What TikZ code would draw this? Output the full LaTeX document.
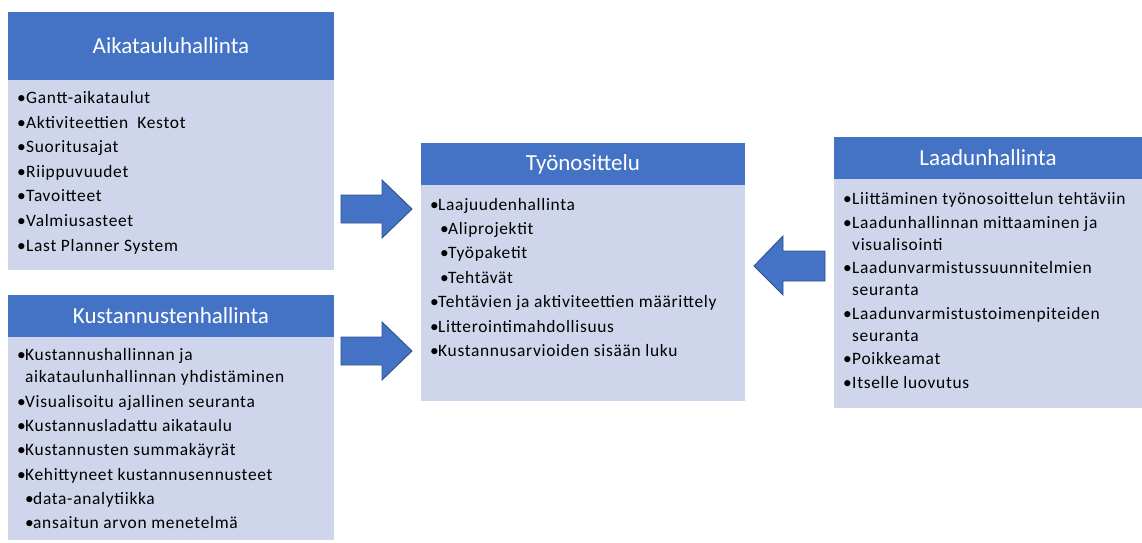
\documentclass[tikz,border=0pt]{standalone}
\usepackage{fontspec}
\setmainfont{Carlito}
\newfontfamily\bodyfont[LetterSpace=4]{Carlito}
\definecolor{hdr}{HTML}{4472C4}
\definecolor{bdy}{HTML}{CFD5EA}
\definecolor{arrline}{HTML}{2F528F}
\newcommand{\bul}[1]{\makebox[#1][l]{\textbullet}}
\begin{document}
\begin{tikzpicture}[x=1pt,y=-1pt,
  hdrbox/.style={fill=hdr, draw=none, text=white, font=\fontsize{23}{26}\selectfont, inner sep=0},
  bdybox/.style={fill=bdy, draw=none, inner sep=0},
  itm/.style={anchor=base west, inner sep=0, font=\bodyfont\fontsize{17.4}{20}\selectfont, text=black},
  blockarrow/.style={fill=hdr, draw=arrline, line width=0.9pt, line join=miter}]
\useasboundingbox (0,0) rectangle (1142,542);
% Box 1
\node[hdrbox, minimum width=326, minimum height=68] (h1) at (171,46) {Aikatauluhallinta};
\node[bdybox, minimum width=326, minimum height=190] (b1) at (171,175) {};
\foreach \i/\y/\t in {1/103/Gantt-aikataulut, 2/128/Aktiviteettien\ \ Kestot, 3/152/Suoritusajat, 4/177/Riippuvuudet, 5/201/Tavoitteet, 6/226/Valmiusasteet, 7/251/Last Planner System}
  \node[itm] (a\i) at (17,\y) {\bul{9pt}\t};
% Box 2
\node[hdrbox, minimum width=326, minimum height=42] (h2) at (171,316) {Kustannustenhallinta};
\node[bdybox, minimum width=326, minimum height=203] (b2) at (171,438.5) {};
\foreach \i/\y/\t in {1/360/Kustannushallinnan ja, 3/407/Visualisoitu ajallinen seuranta, 4/431/Kustannusladattu aikataulu, 5/455/Kustannusten summakäyrät, 6/480/Kehittyneet kustannusennusteet}
  \node[itm] (k\i) at (17,\y) {\bul{8pt}\t};
\node[itm] (k2) at (25,382) {aikataulunhallinnan yhdistäminen};
\foreach \i/\y/\t in {7/504/data-analytiikka, 8/528/ansaitun arvon menetelmä}
  \node[itm] (k\i) at (25,\y) {\bul{8pt}\t};
% Box 3
\node[hdrbox, minimum width=324, minimum height=42] (h3) at (583,164) {Työnosittelu};
\node[bdybox, minimum width=324, minimum height=216] (b3) at (583,293) {};
\foreach \i/\y/\t in {1/210/Laajuudenhallinta, 5/307/Tehtävien ja aktiviteettien määrittely, 6/332/Litterointimahdollisuus, 7/356/Kustannusarvioiden sisään luku}
  \node[itm] (t\i) at (430,\y) {\bul{8pt}\t};
\foreach \i/\y/\t in {2/234/Aliprojektit, 3/258/Työpaketit, 4/283/Tehtävät}
  \node[itm] (t\i) at (440,\y) {\bul{8pt}\t};
% Box 4
\node[hdrbox, minimum width=308, minimum height=42] (h4) at (988,158) {Laadunhallinta};
\node[bdybox, minimum width=308, minimum height=229] (b4) at (988,293.5) {};
\foreach \i/\y/\t in {1/204/Liittäminen työnosoittelun tehtäviin, 2/228/Laadunhallinnan mittaaminen ja, 4/273/Laadunvarmistussuunnitelmien, 6/319/Laadunvarmistustoimenpiteiden, 8/364/Poikkeamat, 9/388/Itselle luovutus}
  \node[itm] (l\i) at (843,\y) {\bul{9pt}\t};
\foreach \i/\y/\t in {3/250/visualisointi, 5/295/seuranta, 7/341/seuranta}
  \node[itm] (l\i) at (852,\y) {\t};
% Arrows
\draw[blockarrow] (341,195) -- (382,195) -- (382,180) -- (412,209) -- (382,238) -- (382,223) -- (341,223) -- cycle;
\draw[blockarrow] (341,337) -- (382,337) -- (382,322) -- (412,351) -- (382,380) -- (382,365) -- (341,365) -- cycle;
\draw[blockarrow] (825,251) -- (783,251) -- (783,236) -- (754,266) -- (783,295) -- (783,281) -- (825,281) -- cycle;
\end{tikzpicture}
\end{document}
